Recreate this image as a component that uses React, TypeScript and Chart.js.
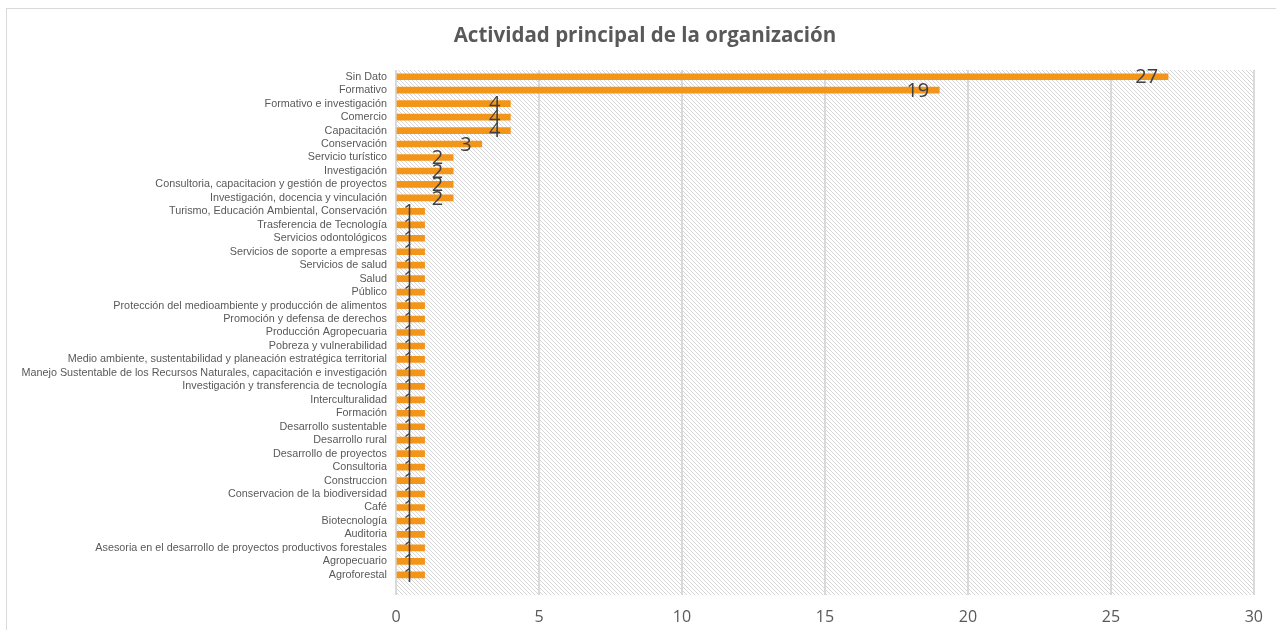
import React, { useEffect, useRef } from "react";
import { Chart, registerables } from "chart.js";

Chart.register(...registerables);

const TITLE = "Actividad principal de la organización";

const categories: string[] = [
  "Sin Dato",
  "Formativo",
  "Formativo e investigación",
  "Comercio",
  "Capacitación",
  "Conservación",
  "Servicio turístico",
  "Investigación",
  "Consultoria, capacitacion y gestión de proyectos",
  "Investigación, docencia y vinculación",
  "Turismo, Educación Ambiental, Conservación",
  "Trasferencia de Tecnología",
  "Servicios odontológicos",
  "Servicios de soporte a empresas",
  "Servicios de salud",
  "Salud",
  "Público",
  "Protección del medioambiente y producción de alimentos",
  "Promoción y defensa de derechos",
  "Producción Agropecuaria",
  "Pobreza y vulnerabilidad",
  "Medio ambiente, sustentabilidad y planeación estratégica territorial",
  "Manejo Sustentable de los Recursos Naturales, capacitación e investigación",
  "Investigación y transferencia de tecnología",
  "Interculturalidad",
  "Formación",
  "Desarrollo sustentable",
  "Desarrollo rural",
  "Desarrollo de proyectos",
  "Consultoria",
  "Construccion",
  "Conservacion de la biodiversidad",
  "Café",
  "Biotecnología",
  "Auditoria",
  "Asesoria en el desarrollo de proyectos productivos forestales",
  "Agropecuario",
  "Agroforestal",
];

const values: number[] = [
  27, 19, 4, 4, 4, 3, 2, 2, 2, 2,
  1, 1, 1, 1, 1, 1, 1, 1, 1, 1,
  1, 1, 1, 1, 1, 1, 1, 1, 1, 1,
  1, 1, 1, 1, 1, 1, 1, 1,
];

const xTicks: number[] = [0, 5, 10, 15, 20, 25, 30];

function makeHatch(): CanvasPattern | string {
  const c = document.createElement("canvas");
  c.width = 4;
  c.height = 4;
  const g = c.getContext("2d");
  if (!g) return "#fff";
  g.fillStyle = "#ffffff";
  g.fillRect(0, 0, 4, 4);
  g.strokeStyle = "#d6d6d6";
  g.lineWidth = 1;
  g.beginPath();
  g.moveTo(-1, -1);
  g.lineTo(5, 5);
  g.moveTo(-1, 3);
  g.lineTo(1, 5);
  g.moveTo(3, -1);
  g.lineTo(5, 1);
  g.stroke();
  const p = g.createPattern(c, "repeat");
  return p || "#fff";
}

const hatchPlugin = {
  id: "hatchBg",
  beforeDraw(chart: any) {
    const { ctx, chartArea } = chart;
    ctx.save();
    ctx.fillStyle = makeHatch();
    ctx.fillRect(chartArea.left, chartArea.top, chartArea.right - chartArea.left, chartArea.bottom - chartArea.top);
    ctx.restore();
  },
};

const titlePlugin = {
  id: "customTitle",
  afterDraw(chart: any) {
    const { ctx } = chart;
    ctx.save();
    ctx.font = "bold 20.5px 'Open Sans'";
    ctx.fillStyle = "#595959";
    ctx.textAlign = "center";
    ctx.textBaseline = "middle";
    ctx.fillText(TITLE, 645, 36);
    ctx.restore();
  },
};

const labelPlugin = {
  id: "barLabels",
  afterDatasetsDraw(chart: any) {
    const { ctx } = chart;
    const meta = chart.getDatasetMeta(0);
    const data = chart.data.datasets[0].data;
    ctx.save();
    ctx.font = "20px 'Open Sans'";
    ctx.fillStyle = "#404040";
    ctx.textAlign = "right";
    ctx.textBaseline = "middle";
    meta.data.forEach((bar: any, i: number) => {
      const v = data[i];
      if (v === null || v === undefined) return;
      ctx.fillText(String(v), bar.x - 10, bar.y + 1);
    });
    ctx.restore();
  },
};

export default function App() {
  const ref = useRef<HTMLCanvasElement | null>(null);
  useEffect(() => {
    if (!ref.current) return;
    const labels = [...categories, ""];
    const chart = new Chart(ref.current, {
      type: "bar",
      data: {
        labels,
        datasets: [
          {
            data: [...values, null] as any,
            backgroundColor: "#F39519",
            barThickness: 6,
          },
        ],
      },
      options: {
        indexAxis: "y",
        animation: false,
        responsive: false,
        maintainAspectRatio: false,
        layout: { padding: { left: 0, right: 22, top: 70, bottom: 0 } },
        plugins: {
          legend: { display: false },
          tooltip: { enabled: false },
          title: { display: false },
        },
        scales: {
          x: {
            type: "linear",
            min: 0,
            max: 30,
            afterBuildTicks: (s: any) => {
              s.ticks = xTicks.map((v) => ({ value: v }));
            },
            afterFit: (s: any) => {
              s.height = 35;
            },
            ticks: {
              color: "#595959",
              font: { family: "'Open Sans'", size: 16 },
              padding: 13,
            },
            grid: { color: "#d9d9d9", lineWidth: 2, drawTicks: false },
            border: { display: false },
          },
          y: {
            type: "category",
            afterFit: (s: any) => {
              s.width = 396;
            },
            ticks: {
              autoSkip: false,
              color: "#595959",
              font: { family: "'Liberation Sans'", size: 10.8 },
              padding: 9,
            },
            grid: { display: false, drawTicks: false },
            border: { display: false },
          },
        },
      },
      plugins: [hatchPlugin, labelPlugin, titlePlugin],
    });
    return () => chart.destroy();
  }, []);

  return (
    <div style={{ position: "fixed", left: 0, top: 0, width: 1276, height: 630, overflow: "hidden", background: "#fff" }}>
      <div style={{ position: "absolute", left: 6, top: 8, width: 1400, height: 800, border: "1px solid #d9d9d9" }} />
      <canvas ref={ref} width={1276} height={630} style={{ position: "absolute", left: 0, top: 0 }} />
    </div>
  );
}
